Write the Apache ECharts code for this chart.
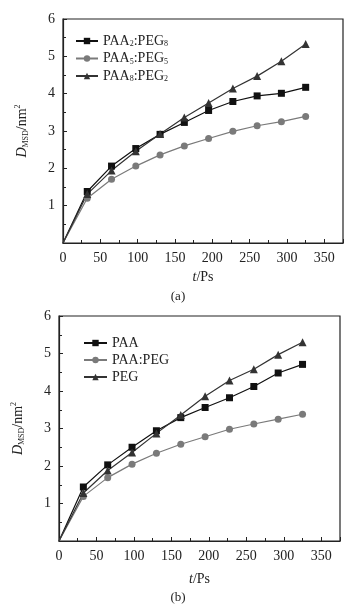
<!DOCTYPE html>
<html>
<head>
<meta charset="utf-8">
<script src="https://cdn.jsdelivr.net/npm/echarts@6/dist/echarts.min.js"></script>
<style>
  html, body { margin: 0; padding: 0; background: #fff; }
  #main { width: 356px; height: 606px; }
</style>
</head>
<body>
<div id="main"></div>
<script>
// time points (ps), shared by both panels
var times = [0, 32.5, 65, 97.5, 130, 162.5, 195, 227.5, 260, 292.5, 325];

// panel (a)
var namesA = ['PAA2:PEG8', 'PAA5:PEG5', 'PAA8:PEG2'];
var paa2peg8 = [0, 1.38, 2.06, 2.53, 2.91, 3.23, 3.55, 3.79, 3.94, 4.01, 4.17];
var paa5peg5 = [0, 1.20, 1.71, 2.06, 2.36, 2.60, 2.80, 2.99, 3.14, 3.25, 3.39];
var paa8peg2 = [0, 1.31, 1.94, 2.46, 2.92, 3.36, 3.75, 4.14, 4.47, 4.87, 5.33];

// panel (b)
var namesB = ['PAA', 'PAA:PEG', 'PEG'];
var paa    = [0, 1.44, 2.03, 2.50, 2.94, 3.29, 3.56, 3.82, 4.12, 4.48, 4.71];
var paaPeg = [0, 1.19, 1.69, 2.05, 2.34, 2.58, 2.78, 2.98, 3.12, 3.25, 3.38];
var peg    = [0, 1.28, 1.88, 2.36, 2.87, 3.36, 3.86, 4.28, 4.58, 4.97, 5.30];

var xTicks = [0, 50, 100, 150, 200, 250, 300, 350];
var yTicks = [1, 2, 3, 4, 5, 6];

var serif = '"Liberation Serif", "DejaVu Serif", serif';

var chart = echarts.init(document.getElementById('main'));

function pts(vals) {
  return vals.map(function (v, i) {
    if (i === 0) return { value: [times[i], v], symbol: 'none' };
    return [times[i], v];
  });
}

// legend labels with subscripts
var legendLabel = {
  'PAA2:PEG8': '{n|PAA}{s|2}{n|:PEG}{s|8}',
  'PAA5:PEG5': '{n|PAA}{s|5}{n|:PEG}{s|5}',
  'PAA8:PEG2': '{n|PAA}{s|8}{n|:PEG}{s|2}'
};

var legendRich = {
  n: { fontFamily: serif, fontSize: 14, color: '#222' },
  s: { fontFamily: serif, fontSize: 8, color: '#222', padding: [6, 0, 0, 0] }
};

function xAxis(gi, gap) {
  return {
    type: 'value', gridIndex: gi, min: 0, max: 375, interval: 50,
    name: '{i|t}{n|/Ps}',
    nameLocation: 'middle', nameGap: gap,
    nameTextStyle: { rich: {
      i: { fontFamily: serif, fontStyle: 'italic', fontSize: 14, color: '#222' },
      n: { fontFamily: serif, fontSize: 14, color: '#222' }
    } },
    axisLine: { lineStyle: { color: '#222', width: 1.2 } },
    axisTick: { inside: true, length: 4, lineStyle: { color: '#222' } },
    minorTick: { show: true, splitNumber: 2, length: 3, lineStyle: { color: '#222' } },
    axisLabel: {
      fontFamily: serif, fontSize: 14, color: '#222', margin: 8,
      formatter: function (v) { return xTicks.indexOf(v) >= 0 ? String(v) : ''; }
    },
    splitLine: { show: false }
  };
}

function yAxis(gi) {
  return {
    type: 'value', gridIndex: gi, min: 0, max: 6, interval: 1,
    name: '{i|D}{s|MSD}{n|/nm}{p|2}',
    nameLocation: 'middle', nameGap: 33, nameRotate: 90,
    nameTextStyle: { rich: {
      i: { fontFamily: serif, fontStyle: 'italic', fontSize: 14, color: '#222' },
      s: { fontFamily: serif, fontSize: 8, color: '#222', padding: [7, 0, 0, 0] },
      n: { fontFamily: serif, fontSize: 14, color: '#222' },
      p: { fontFamily: serif, fontSize: 8, color: '#222', padding: [0, 0, 8, 0] }
    } },
    axisLine: { lineStyle: { color: '#222', width: 1.2 } },
    axisTick: { inside: true, length: 4, lineStyle: { color: '#222' } },
    minorTick: { show: true, splitNumber: 2, length: 3, lineStyle: { color: '#222' } },
    axisLabel: {
      fontFamily: serif, fontSize: 14, color: '#222', margin: 8,
      formatter: function (v) { return yTicks.indexOf(v) >= 0 ? String(v) : ''; }
    },
    splitLine: { show: false }
  };
}

function line(name, vals, gi, symbol, color, size) {
  return {
    name: name, type: 'line', xAxisIndex: gi, yAxisIndex: gi,
    data: pts(vals), symbol: symbol, symbolSize: size, showSymbol: true,
    lineStyle: { color: color, width: 1.2 },
    itemStyle: { color: color },
    emphasis: { disabled: true },
    animation: false
  };
}

var option = {
  backgroundColor: '#fff',
  animation: false,
  grid: [
    { left: 63, right: 13, top: 19, height: 224, show: true, borderColor: '#222', borderWidth: 1.2 },
    { left: 59, right: 16, top: 316, height: 225, show: true, borderColor: '#222', borderWidth: 1.2 }
  ],
  title: [
    { text: '(a)', left: 'center', top: 290, textStyle: { fontFamily: serif, fontSize: 13, fontWeight: 'normal', color: '#222' }, padding: 0 },
    { text: '(b)', left: 'center', top: 591, textStyle: { fontFamily: serif, fontSize: 13, fontWeight: 'normal', color: '#222' }, padding: 0 }
  ],
  legend: [
    {
      data: namesA, orient: 'vertical', left: 75, top: 34, itemGap: 3.5, padding: 0,
      itemWidth: 22, itemHeight: 8,
      formatter: function (n) { return legendLabel[n]; },
      textStyle: { rich: legendRich }
    },
    {
      data: namesB, orient: 'vertical', left: 83, top: 336, itemGap: 3, padding: 0,
      itemWidth: 23, itemHeight: 8,
      textStyle: { fontFamily: serif, fontSize: 14, color: '#222' }
    }
  ],
  xAxis: [xAxis(0, 27), xAxis(1, 31)],
  yAxis: [yAxis(0), yAxis(1)],
  series: [
    line(namesA[0], paa2peg8, 0, 'rect', '#111', 7),
    line(namesA[1], paa5peg5, 0, 'circle', '#7a7a7a', 7),
    line(namesA[2], paa8peg2, 0, 'triangle', '#333', 8),
    line(namesB[0], paa, 1, 'rect', '#111', 7),
    line(namesB[1], paaPeg, 1, 'circle', '#7a7a7a', 7),
    line(namesB[2], peg, 1, 'triangle', '#333', 8)
  ]
};

chart.setOption(option);
</script>
</body>
</html>
